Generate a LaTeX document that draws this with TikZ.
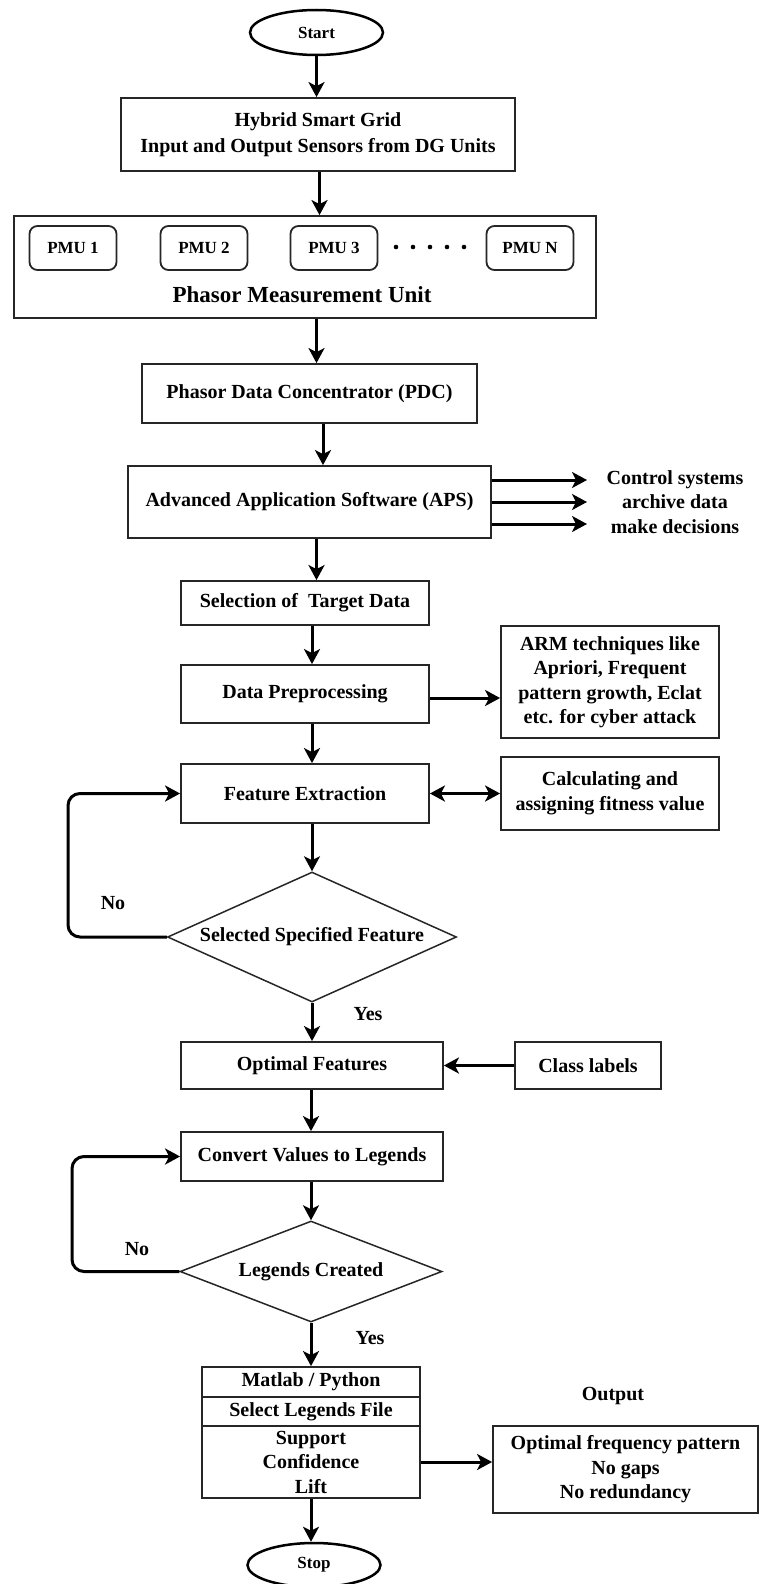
\documentclass[tikz,border=0pt]{standalone}
\usepackage{fontspec}
\setmainfont{Liberation Serif}
\usetikzlibrary{shapes.geometric,arrows.meta}
\begin{document}
\begin{tikzpicture}[x=1pt,y=-1pt,
  base/.style={font=\fontsize{20}{24.5}\selectfont\bfseries},
  box/.style={base,draw=black!85,line width=1.8pt,rectangle,inner sep=0pt,align=center},
  pmubox/.style={box,rounded corners=8pt,minimum width=87pt,minimum height=44pt,
    font=\fontsize{17}{20}\selectfont\bfseries},
  term/.style={ellipse,draw=black,line width=2.5pt,inner sep=0pt,
    font=\fontsize{17}{20}\selectfont\bfseries},
  decision/.style={diamond,draw=black!85,line width=1.5pt,inner sep=0pt},
  txt/.style={base,align=center,inner sep=0pt},
  arr/.style={line width=3pt,-{Stealth[length=15pt,width=16pt,inset=4pt]}},
  dblarr/.style={line width=3pt,{Stealth[length=15pt,width=16pt,inset=4pt]}-{Stealth[length=15pt,width=16pt,inset=4pt]}},
  back/.style={arr,rounded corners=12pt}]

\useasboundingbox (0,0) rectangle (761,1584);

% terminals
\node[term,minimum width=133pt,minimum height=45pt] (start) at (316.5,32.5) {Start};
\node[term,minimum width=133pt,minimum height=44pt] (stop) at (314,1565) {Stop};

% grid and measurement units
\node[box,minimum width=394pt,minimum height=73pt,font=\fontsize{20}{26}\selectfont\bfseries]
  (hyb) at (318,134.5) {Hybrid Smart Grid\\Input and Output Sensors from DG Units};
\node[box,minimum width=581.5pt,minimum height=102pt] (pmu) at (305,267) {};
\node[pmubox] (pmu1) at (73,248) {PMU 1};
\node[pmubox] (pmu2) at (204,248) {PMU 2};
\node[pmubox] (pmu3) at (334,248) {PMU 3};
\node[pmubox] (pmun) at (530,248) {PMU N};
\foreach \d in {396,413,430,447,464} \fill (\d,247) circle (2.3pt);
\node[txt,font=\fontsize{23}{26}\selectfont\bfseries] (pmulbl) at (302,295) {Phasor Measurement Unit};

\node[box,minimum width=335pt,minimum height=59pt] (pdc) at (309.5,393.5) {Phasor Data Concentrator (PDC)};
\node[box,minimum width=363pt,minimum height=72pt] (aps) at (309.5,502) {Advanced Application Software (APS)};
\node[txt] (apsout) at (675,502) {Control systems\\archive data\\make decisions};
\coordinate (o1) at (587,480);
\coordinate (o2) at (587,502);
\coordinate (o3) at (587,524);

% data mining chain
\node[box,minimum width=248pt,minimum height=44pt] (sel) at (305,603) {Selection of~ Target Data};
\node[box,minimum width=248pt,minimum height=58pt] (dpp) at (305,694) {Data Preprocessing};
\node[box,minimum width=218pt,minimum height=112pt] (arm) at (610,682)
  {ARM techniques like\\Apriori, Frequent\\pattern growth, Eclat\\etc. for cyber attack};
\node[box,minimum width=248pt,minimum height=59pt] (fe) at (305,793.5) {Feature Extraction};
\node[box,minimum width=218pt,minimum height=73pt] (calc) at (610,793.5)
  {Calculating and\\assigning fitness value};

\node[decision,minimum width=289pt,minimum height=130pt] (d1) at (312,937) {};
\node[txt] (d1lbl) at (d1) {Selected Specified Feature};
\node[txt] (no1) at (113,903) {No};
\node[txt] (yes1) at (368,1014) {Yes};

\node[box,minimum width=262pt,minimum height=47pt] (opt) at (312,1065.5) {Optimal Features};
\node[box,minimum width=145.5pt,minimum height=47pt] (cls) at (588,1065.5) {Class labels};
\node[box,minimum width=262pt,minimum height=49pt] (conv) at (312,1156.5) {Convert Values to Legends};

\node[decision,minimum width=262pt,minimum height=101pt] (d2) at (311,1271.5) {};
\node[txt] (d2lbl) at (d2) {Legends Created};
\node[txt] (no2) at (137,1249) {No};
\node[txt] (yes2) at (370,1338) {Yes};

% tool stack
\node[box,minimum width=218.5pt,minimum height=30pt] (m1) at (311,1382) {Matlab / Python};
\node[box,minimum width=218.5pt,minimum height=29pt] (m2) at (311,1411.5) {Select Legends File};
\node[box,minimum width=218.5pt,minimum height=72pt] (m3) at (311,1462) {Support\\Confidence\\Lift};

\node[txt] (outlbl) at (613,1396) {Output};
\node[box,minimum width=265pt,minimum height=87pt] (out) at (625.5,1469.5)
  {Optimal frequency pattern\\No gaps\\No redundancy};

% connectors
\draw[arr] (start) -- (start |- hyb.north);
\draw[arr] (hyb.south -| 319.5,0) -- (319.5,0 |- pmu.north);
\draw[arr] (pmu.south -| 316.5,0) -- (316.5,0 |- pdc.north);
\draw[arr] (pdc.south -| 323,0) -- (323,0 |- aps.north);
\draw[arr] (aps.east |- o1) -- (o1);
\draw[arr] (aps.east |- o2) -- (o2);
\draw[arr] (aps.east |- o3) -- (o3);
\draw[arr] (aps.south -| 316.5,0) -- (316.5,0 |- sel.north);
\draw[arr] (sel.south -| 312,0) -- (312,0 |- dpp.north);
\draw[arr] (dpp.east |- 0,698) -- (arm.west |- 0,698);
\draw[arr] (dpp.south -| 312,0) -- (312,0 |- fe.north);
\draw[dblarr] (fe.east) -- (calc.west |- fe.east);
\draw[arr] (fe.south -| d1.north) -- (d1.north);
\draw[back] (d1.west) -- (68,937) -- (68,793.5) -- (fe.west);
\draw[arr] (d1.south) -- (d1.south |- opt.north);
\draw[arr] (cls.west) -- (opt.east);
\draw[arr] (opt.south -| d2.north) -- (d2.north |- conv.north);
\draw[arr] (conv.south -| d2.north) -- (d2.north);
\draw[back] (d2.west) -- (72,1271.5) -- (72,1156.5) -- (conv.west);
\draw[arr] (d2.south) -- (m1.north);
\draw[arr] (m3.east) -- (out.west |- m3.east);
\draw[arr] (m3.south) -- (m3.south |- stop.north);
\end{tikzpicture}
\end{document}
